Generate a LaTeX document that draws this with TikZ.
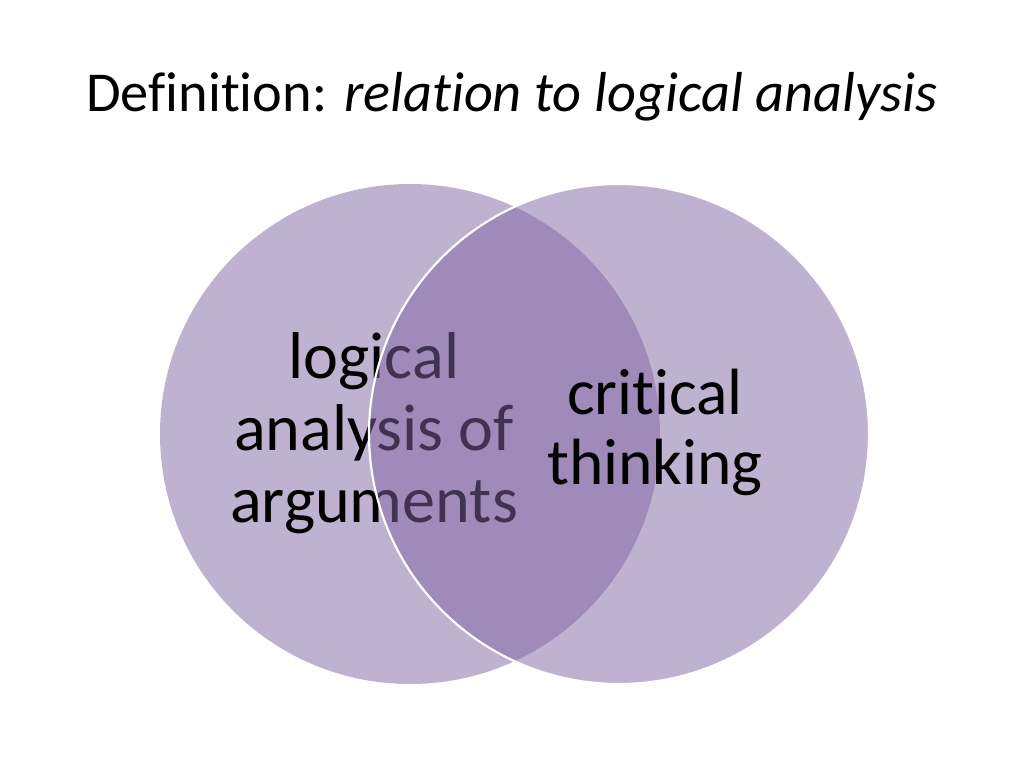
\documentclass[tikz,border=0pt]{standalone}
\usepackage{fontspec}
\setmainfont{Carlito}[Ligatures=NoCommon]
\definecolor{vennpurple}{HTML}{8064A2}

\begin{document}
\begin{tikzpicture}[x=0.703pt, y=-0.703pt,
        venn/.style = {circle, minimum size=351.5pt, inner sep=0pt, fill=vennpurple, fill opacity=0.5},
        venntext/.style = {align=center, inner sep=0pt, font=\fontsize{46.5}{50.6}\selectfont}]
    \useasboundingbox (0,0) rectangle (1024,768);
    \node (title) at (512,97) {\fontsize{39.6}{48}\selectfont Definition: \textit{relation to logical analysis}};
    \node[venn] (left) at (410,434) {};
    \node[venntext] (lefttext) at (374,433) {logical\\analysis of\\arguments};
    \node[venn, draw=white, line width=1.5pt] (right) at (619,434) {};
    \node[venntext, font=\fontsize{46}{49.2}\selectfont] (righttext) at (655,432) {critical\\thinking};
\end{tikzpicture}
\end{document}
